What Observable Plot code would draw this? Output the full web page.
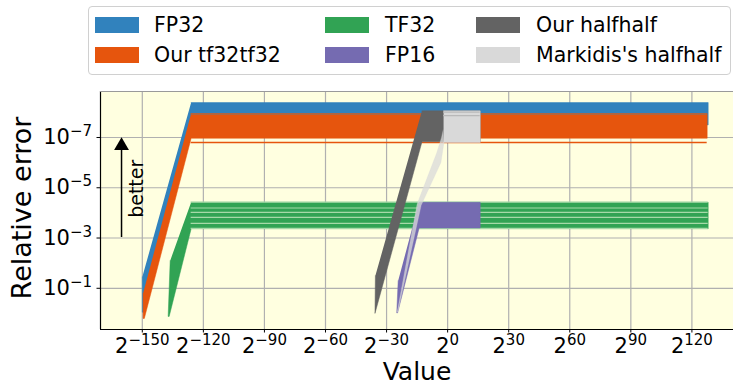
<!DOCTYPE html>
<html><head><meta charset="utf-8">
<script src="https://cdn.jsdelivr.net/npm/d3@7"></script>
<script src="https://cdn.jsdelivr.net/npm/@observablehq/plot@0.6"></script>
<style>
body{margin:0;background:#fff;font-family:"DejaVu Sans",sans-serif;}
#wrap{position:relative;width:733px;height:386px;overflow:hidden;}
#legend{position:absolute;left:88px;top:6px;width:643px;height:69px;border:1px solid #d0d0d0;border-radius:4px;background:#fff;box-sizing:border-box;}
.sw{position:absolute;width:44px;height:16px;}
.lb{position:absolute;font-size:20.5px;line-height:20px;color:#000;white-space:nowrap;}
</style>
</head><body>
<div id="wrap"><div id="chart"></div><div id="legend"></div></div>
<script>
// ---- data (x = log2 of value, y = log10 of relative error) ----
const seriesNames = ["FP32","Our tf32tf32","TF32","FP16","Our halfhalf","Markidis's halfhalf"];
const seriesColors = ["#3182bd","#e6550d","#31a354","#756bb1","#636363","#d9d9d9"];

const fp32Exp    = [-126, 128, 128, -126, -148.8, -149.2, -150.0, -150.0];
const fp32LogErr = [-8.39, -8.39, -7.5, -7.5, -0.7, -0.05, -0.05, -1.45];

const tf32x2Exp    = [-126, 127.5, 127.5, -126, -149.0, -149.6, -149.6];
const tf32x2LogErr = [-7.95, -7.95, -6.97, -6.97, 0.2, 0.2, -0.8];
const tf32x2TailLevels = [-6.80];
const tf32x2EdgeLevels = [-7.93];

const tf32Exp    = [-126, 128, 128, -126, -136.8, -137.3, -136.3];
const tf32LogErr = [-4.42, -4.42, -3.37, -3.37, 0.12, 0.12, -2.1];
const tf32GapLevels = [-4.43, -4.195, -4.02, -3.82, -3.58, -3.385];

const fp16Exp    = [-14, 16, 16, -14, -24.6, -25.0, -24.3];
const fp16LogErr = [-4.42, -4.42, -3.40, -3.40, -0.02, -0.02, -1.3];

const ourHalfExp    = [-12.6, 16, 16, -12.6, -35.7, -35.5];
const ourHalfLogErr = [-8.06, -8.06, -6.83, -6.83, 0.0, -1.5];

const markBlockExp    = [-2.0, 16, 16, -2.0];
const markBlockLogErr = [-8.06, -8.06, -6.80, -6.80];
const markBlockStripes = [-8.01, -7.87];
const markSlopeExp    = [-2.2, -3.0, -5.3, -15.0, -24.8, -24.5, -13.0, -3.3, -1.8];
const markSlopeLogErr = [-7.3, -7.0, -6.4, -4.35, -0.05, -0.05, -4.3, -6.0, -6.8];

const xTicks = [-150, -120, -90, -60, -30, 0, 30, 60, 90, 120];
const yTickExps = [-7, -5, -3, -1];

const xDomain = [-170.53, 140.43];
const yDomainLog = [0.64, -8.83];

const betterArrow = {x: -160.2, tail: -3.02, head: -6.87};
const betterLabel = {x: -152.8, y: -4.96, text: "better"};

// ---- build ----
const pts = (ex, le) => ex.map((e, i) => ({x: e, y: Math.pow(10, le[i])}));
const poly = (ex, le, color, extra = {}) => Plot.line(pts(ex, le), {x: "x", y: "y", fill: color, stroke: color, strokeWidth: 0.5, ...extra});
const levels = (arr, x1, x2, color, w) => Plot.ruleY(arr.map(v => ({y: Math.pow(10, v)})), {y: "y", x1: () => x1, x2: () => x2, stroke: color, strokeWidth: w});

const yTicks = yTickExps.map(e => Math.pow(10, e));

const chart = Plot.plot({
  width: 733, height: 386,
  marginLeft: 100, marginRight: 0, marginTop: 91, marginBottom: 57,
  style: {fontFamily: "DejaVu Sans, sans-serif", background: "transparent", overflow: "visible"},
  x: {domain: xDomain},
  y: {type: "log", domain: yDomainLog.map(v => Math.pow(10, v))},
  marks: [
    Plot.frame({fill: "#ffffe0", stroke: null}),
    Plot.gridX(xTicks, {stroke: "#b0b0b0", strokeOpacity: 1, strokeWidth: 1.2}),
    Plot.gridY(yTicks, {stroke: "#b0b0b0", strokeOpacity: 1, strokeWidth: 1.2}),
    poly(fp32Exp, fp32LogErr, seriesColors[0]),
    poly(tf32x2Exp, tf32x2LogErr, seriesColors[1]),
    levels(tf32x2TailLevels, -126, 127.5, seriesColors[1], 1.6),
    levels(tf32x2EdgeLevels, -126, 127.5, "#b2653f", 1.8),
    poly(tf32Exp, tf32LogErr, seriesColors[2]),
    levels(tf32GapLevels, -126, 128, "#a6d9a8", 1.2),
    poly(fp16Exp, fp16LogErr, seriesColors[3]),
    poly(ourHalfExp, ourHalfLogErr, seriesColors[4]),
    poly(markBlockExp, markBlockLogErr, seriesColors[5]),
    levels(markBlockStripes, -2, 16, "#b8b8b8", 1.2),
    poly(markSlopeExp, markSlopeLogErr, seriesColors[5], {fillOpacity: 0.75, strokeOpacity: 0.5}),
    Plot.ruleX([betterArrow], {x: "x", y1: d => Math.pow(10, d.tail), y2: d => Math.pow(10, d.head + 0.35), stroke: "black", strokeWidth: 1.5}),
    Plot.dot([betterArrow], {x: "x", y: d => Math.pow(10, d.head + 0.2), symbol: "triangle", r: 5.5, fill: "black", stroke: null}),
    Plot.text([betterLabel], {x: "x", y: d => Math.pow(10, d.y), text: "text", rotate: -90, fontSize: 19, fill: "black"}),
    Plot.ruleX([xDomain[0]], {stroke: "black", strokeWidth: 1.2}),
    Plot.ruleY([Math.pow(10, yDomainLog[0])], {stroke: "black", strokeWidth: 1.2}),
    Plot.ruleY([Math.pow(10, yDomainLog[1])], {stroke: "#9a9a9a", strokeWidth: 1.2}),
    Plot.axisX({ticks: xTicks, tickSize: 3.5, tickPadding: 5, fontSize: 21, label: null,
      tickFormat: d => "2^" + String(d).replace("-", "\u2212")}),
    Plot.axisY({ticks: yTicks, tickSize: 3.5, tickPadding: 5, fontSize: 21, label: null,
      tickFormat: d => "10^" + String(Math.round(Math.log10(d))).replace("-", "\u2212")})
  ]
});
document.getElementById("chart").appendChild(chart);

// superscripts in tick labels
chart.querySelectorAll('g[aria-label="x-axis tick label"] text, g[aria-label="y-axis tick label"] text').forEach(t => {
  const s = t.textContent;
  if (!s.includes("^")) return;
  const [b, e] = s.split("^");
  t.textContent = "";
  const ns = "http://www.w3.org/2000/svg";
  const t1 = document.createElementNS(ns, "tspan"); t1.textContent = b; t.appendChild(t1);
  const t2 = document.createElementNS(ns, "tspan"); t2.textContent = e;
  t2.setAttribute("dy", "-8"); t2.setAttribute("font-size", "15"); t.appendChild(t2);
});

// axis titles
const svg = d3.select(chart);
svg.append("text").attr("x", 417).attr("y", 380).attr("text-anchor", "middle")
  .attr("font-size", 25).attr("font-family", "DejaVu Sans, sans-serif").attr("fill", "black").text("Value");
svg.append("text").attr("transform", "translate(31,208) rotate(-90)").attr("text-anchor", "middle")
  .attr("font-size", 27).attr("font-family", "DejaVu Sans, sans-serif").attr("fill", "black").text("Relative error");

// legend
const legendCols = [[95, 154], [325, 385], [476, 536]];
const legendRows = [17, 47];
const leg = document.getElementById("legend");
seriesNames.forEach((name, i) => {
  const c = legendCols[Math.floor(i / 2)], r = legendRows[i % 2];
  const sw = document.createElement("div"); sw.className = "sw";
  sw.style.left = (c[0] - 89) + "px"; sw.style.top = (r - 7) + "px"; sw.style.background = seriesColors[i];
  leg.appendChild(sw);
  const lb = document.createElement("div"); lb.className = "lb"; lb.textContent = name;
  lb.style.left = (c[1] - 89) + "px"; lb.style.top = (r - 9) + "px";
  leg.appendChild(lb);
});
</script>
</body></html>
